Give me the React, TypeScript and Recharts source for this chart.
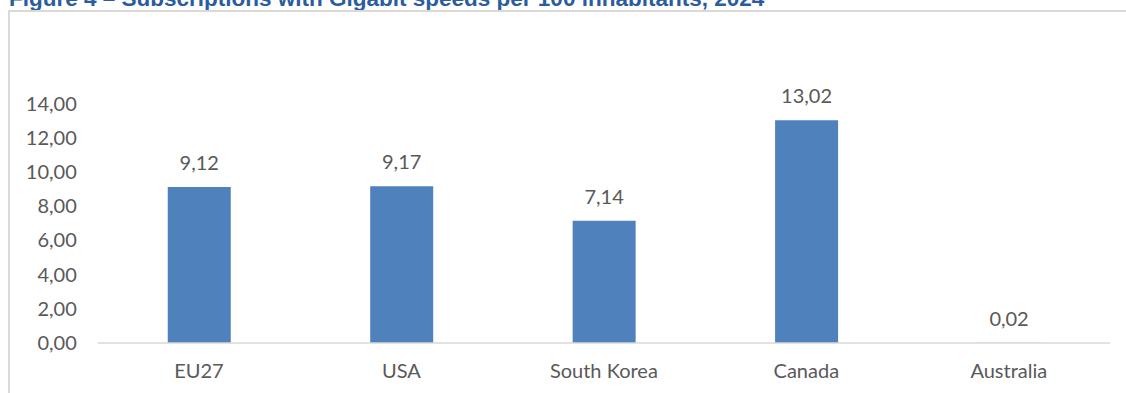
import { BarChart, Bar, XAxis, YAxis, LabelList } from 'recharts'

const countries = ['EU27', 'USA', 'South Korea', 'Canada', 'Australia']
const gigabitPer100 = [9.12, 9.17, 7.14, 13.02, 0.02]
const yTicks = [0, 2, 4, 6, 8, 10, 12, 14]

const TITLE = 'Figure 4 – Subscriptions with Gigabit speeds per 100 inhabitants, 2024'
const FONT = 'Lato, "Open Sans", sans-serif'
const TEXT_GREY = '#595959'
const BAR_BLUE = '#4F81BD'
const LINE_GREY = '#D9D9D9'

const data = countries.map((name, i) => ({ name, value: gigabitPer100[i] }))

// comma as decimal separator, two places
const fmt = (v: number) => Number(v).toFixed(2).replace('.', ',')

export default function App() {
  return (
    <div style={{ position: 'absolute', left: 0, top: 0, width: 1126, height: 393, overflow: 'hidden', background: '#fff' }}>
      <svg width={1126} height={20} style={{ position: 'absolute', left: 0, top: 0 }}>
        <text x={9} y={6} fontFamily='"Liberation Sans", Arial, sans-serif' fontWeight="bold" fontSize={22.5} fill="#2B5C9E">
          {TITLE}
        </text>
      </svg>
      <div
        style={{
          position: 'absolute', left: 8, top: 10, width: 1130, height: 400,
          borderTop: `2px solid ${LINE_GREY}`, borderLeft: `2px solid ${LINE_GREY}`,
        }}
      />
      <div style={{ position: 'absolute', left: 0, top: 0 }}>
        <BarChart width={1126} height={393} data={data} margin={{ top: 103.5, right: 16, bottom: 0, left: 0 }}>
          <XAxis
            dataKey="name"
            height={50}
            tickLine={false}
            tickSize={0}
            tickMargin={21}
            axisLine={{ stroke: LINE_GREY, strokeWidth: 1.5 }}
            tick={{ fill: TEXT_GREY, fontSize: 20, fontFamily: FONT }}
          />
          <YAxis
            width={97.75}
            domain={[0, 14]}
            ticks={yTicks}
            tickFormatter={fmt}
            axisLine={false}
            tickLine={false}
            tickSize={0}
            tickMargin={21}
            tick={{ fill: TEXT_GREY, fontSize: 20, fontFamily: FONT }}
          />
          <Bar dataKey="value" fill={BAR_BLUE} barSize={63} isAnimationActive={false}>
            <LabelList
              dataKey="value"
              position="top"
              offset={17}
              formatter={(v: number) => fmt(v)}
              style={{ fill: TEXT_GREY, fontSize: 20, fontFamily: FONT }}
            />
          </Bar>
        </BarChart>
      </div>
    </div>
  )
}
